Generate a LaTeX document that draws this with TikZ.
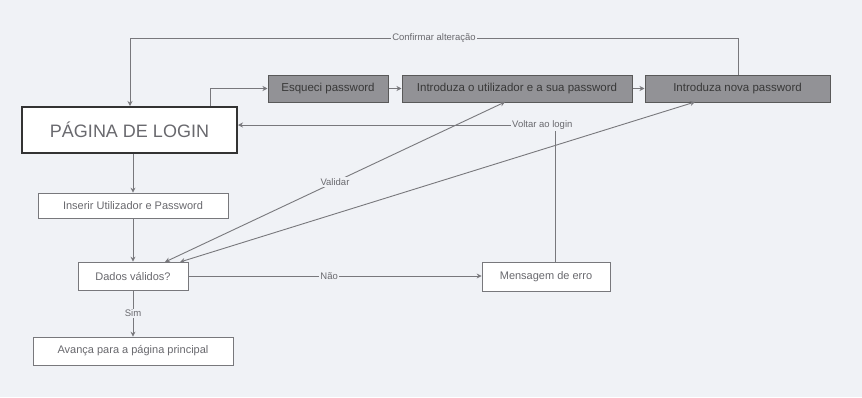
\documentclass[tikz,border=0pt]{standalone}
\usepackage{fontspec}
\setmainfont{Liberation Sans}
\usetikzlibrary{arrows.meta}
\definecolor{bg}{RGB}{240,242,246}
\definecolor{ln}{RGB}{120,120,124}
\definecolor{tx}{RGB}{105,105,110}
\definecolor{dk}{RGB}{146,146,150}
\begin{document}
\begin{tikzpicture}[x=1pt,y=1pt,
  box/.style={draw=ln, line width=0.7pt, fill=white, inner sep=0pt, text=tx,
    font=\fontsize{11}{13}\selectfont},
  dbox/.style={draw=black!65, line width=1pt, fill=dk, inner sep=0pt, text=black!78,
    font=\fontsize{11.5}{13}\selectfont, minimum height=27},
  conn/.style={draw=ln, line width=0.9pt, -{Stealth[length=5pt,width=5pt]}},
  lbl/.style={font=\fontsize{9.5}{11}\selectfont, text=tx, fill=bg, inner sep=1.5pt}]
\fill[bg] (0,0) rectangle (862,-397);
\useasboundingbox (0,0) rectangle (862,-397);

\node[box, draw=black!80, line width=2pt, minimum width=215, minimum height=46,
  font=\fontsize{18}{20}\selectfont] (login) at (129.5,-130) {PÁGINA DE LOGIN};
\node[box, minimum width=190, minimum height=25] (ins) at (133,-205.5) {Inserir Utilizador e Password};
\node[box, minimum width=110, minimum height=28] (dados) at (133,-276) {Dados válidos?};
\node[box, minimum width=200, minimum height=28] (avanca) at (133,-351) {Avança para a página principal};
\node[box, minimum width=128, minimum height=29] (erro) at (546,-277) {Mensagem de erro};

\node[dbox, minimum width=120] (esq) at (328,-88.5) {Esqueci password};
\node[dbox, minimum width=230] (insu) at (517,-88.5) {Introduza o utilizador e a sua password};
\node[dbox, minimum width=185] (nova) at (737.5,-88.5) {Introduza nova password};

\coordinate (t1) at (738,-38);
\coordinate (t2) at (130,-38);
\draw[conn] (nova.north -| t1) -- (t1) -- node[lbl]{Confirmar alteração} (t2) -- (login.north -| t2);

\coordinate (l1) at (210,-88.5);
\draw[conn] (login.north -| l1) -- (l1) -- (esq.west);
\draw[conn] (esq) -- (insu);
\draw[conn] (insu) -- (nova);

\draw[conn] (login.south -| ins.north) -- (ins);
\draw[conn] (ins) -- (dados);
\draw[conn] (dados) -- node[lbl, pos=0.5]{Sim} (avanca);
\draw[conn] (dados.east) -- node[lbl, pos=0.48]{Não} (dados.east -| erro.west);

\coordinate (r1) at (555,-125);
\draw[conn] (erro.north -| r1) -- (r1) -- node[lbl, pos=0.04]{Voltar ao login} (login.east |- r1);

\coordinate (ia) at (505,-102);
\coordinate (na) at (695,-102);
\coordinate (da) at (165,-262);
\coordinate (db) at (180,-262);
\draw[conn, {Stealth[length=5pt,width=5pt]}-{Stealth[length=5pt,width=5pt]}] (ia) -- node[lbl, pos=0.5]{Validar} (da);
\draw[conn, {Stealth[length=5pt,width=5pt]}-{Stealth[length=5pt,width=5pt]}] (na) -- (db);
\end{tikzpicture}
\end{document}
